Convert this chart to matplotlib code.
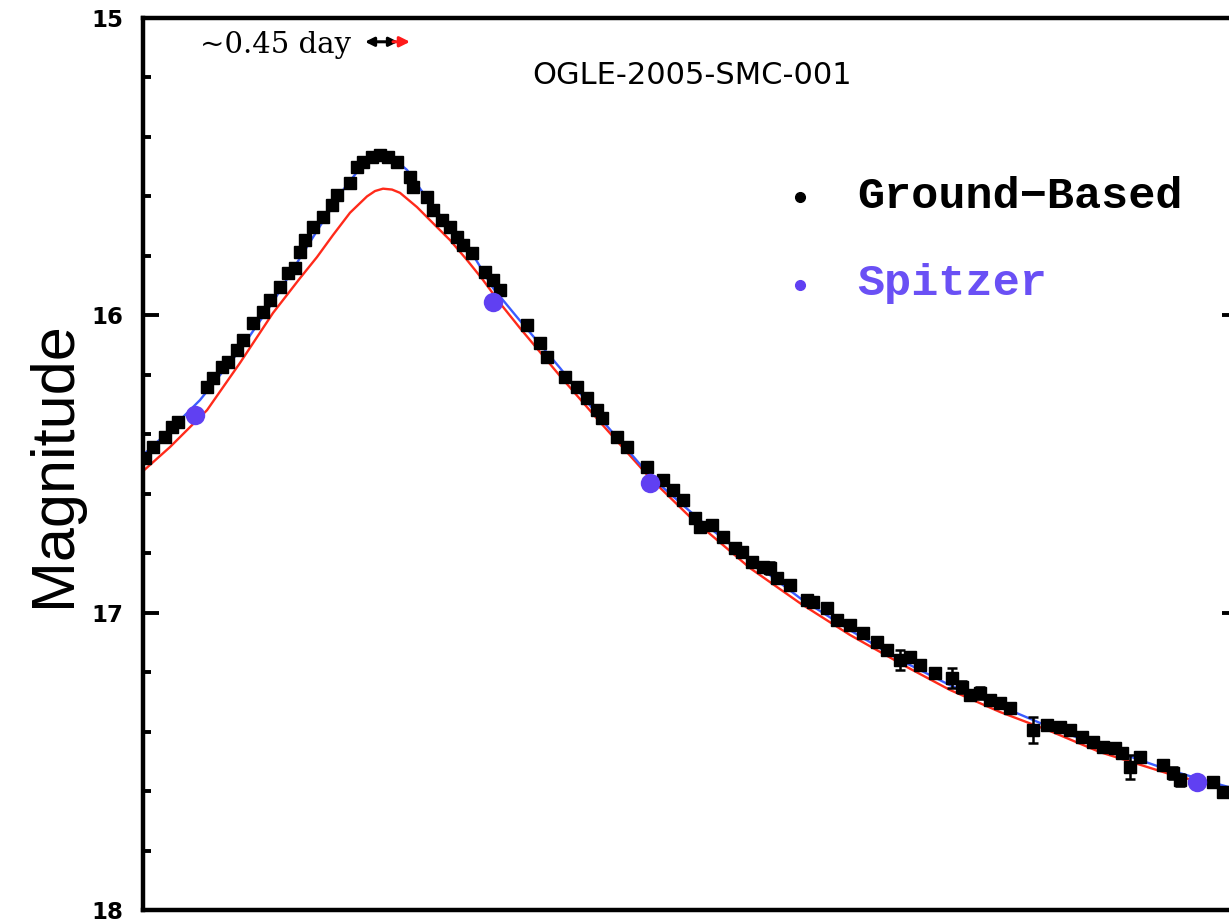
import numpy as np
import matplotlib
matplotlib.use("Agg")
import matplotlib.pyplot as plt

# ground-based photometry: time (days), magnitude, error
T_GB = [0.02, 0.10, 0.22, 0.29, 0.35, 0.64, 0.70, 0.79, 0.85, 0.94,
        1.00, 1.10, 1.20, 1.27, 1.37, 1.45, 1.52, 1.57, 1.62, 1.70,
        1.80, 1.89, 1.94, 2.07, 2.14, 2.20, 2.29, 2.37, 2.45, 2.54,
        2.67, 2.70, 2.84, 2.90, 2.99, 3.07, 3.14, 3.20, 3.29, 3.42,
        3.50, 3.57, 3.84, 3.97, 4.04, 4.22, 4.34, 4.44, 4.54, 4.59,
        4.74, 4.84, 5.04, 5.20, 5.30, 5.40, 5.52, 5.57, 5.69, 5.80,
        5.92, 5.99, 6.09, 6.20, 6.27, 6.34, 6.47, 6.64, 6.70, 6.84,
        6.94, 7.07, 7.20, 7.34, 7.44, 7.57, 7.67, 7.77, 7.92, 8.09,
        8.19, 8.27, 8.37, 8.47, 8.57, 8.67, 8.90, 9.04, 9.17, 9.27,
        9.39, 9.50, 9.60, 9.72, 9.79, 9.87, 9.97, 10.20, 10.30, 10.37,
        10.70, 10.80]
MAG_GB = [16.480, 16.443, 16.409, 16.376, 16.359, 16.241, 16.211, 16.174, 16.157, 16.117,
          16.083, 16.026, 15.989, 15.949, 15.905, 15.858, 15.841, 15.787, 15.747, 15.703,
          15.669, 15.629, 15.595, 15.555, 15.501, 15.484, 15.468, 15.461, 15.468, 15.484,
          15.535, 15.568, 15.602, 15.646, 15.679, 15.703, 15.737, 15.764, 15.790, 15.854,
          15.881, 15.915, 16.033, 16.093, 16.140, 16.208, 16.241, 16.278, 16.319, 16.345,
          16.409, 16.443, 16.510, 16.554, 16.588, 16.621, 16.682, 16.712, 16.705, 16.746,
          16.783, 16.796, 16.830, 16.847, 16.850, 16.884, 16.907, 16.958, 16.964, 16.985,
          17.025, 17.042, 17.069, 17.099, 17.126, 17.159, 17.149, 17.176, 17.203, 17.220,
          17.250, 17.277, 17.270, 17.294, 17.304, 17.321, 17.395, 17.378, 17.385, 17.395,
          17.418, 17.435, 17.452, 17.455, 17.472, 17.519, 17.486, 17.513, 17.540, 17.563,
          17.570, 17.603]
ERR_GB = [0.008] * 55 + [
          0.010, 0.010, 0.012, 0.012, 0.012, 0.012, 0.012, 0.012, 0.012, 0.020,
          0.012, 0.012, 0.012, 0.012, 0.012, 0.012, 0.012, 0.015, 0.012, 0.012,
          0.035, 0.012, 0.015, 0.015, 0.035, 0.020, 0.012, 0.020, 0.012, 0.012,
          0.012, 0.045, 0.015, 0.015, 0.015, 0.012, 0.012, 0.015, 0.012, 0.012,
          0.040, 0.015, 0.012, 0.020, 0.020, 0.015, 0.015]

# Spitzer photometry
T_SP = [0.52, 3.50, 5.07, 10.54]
MAG_SP = [16.335, 15.955, 16.564, 17.570]

# model light curves: fit to ground data (blue) and as seen from Spitzer (red)
T_FIT = [0.00, 0.27, 0.57, 0.97, 1.30, 1.57, 1.77, 2.00, 2.17, 2.35,
         2.42, 2.49, 2.64, 2.90, 3.27, 3.50, 3.74, 4.17, 4.57, 5.07,
         5.57, 6.07, 6.57, 7.07, 7.57, 8.07, 8.57, 9.07, 9.57, 10.17,
         10.53, 10.97]
MAG_FIT = [16.470, 16.386, 16.285, 16.117, 15.955, 15.807, 15.700, 15.579, 15.505, 15.464,
           15.461, 15.468, 15.511, 15.636, 15.780, 15.908, 16.006, 16.177, 16.345, 16.540,
           16.689, 16.823, 16.951, 17.059, 17.159, 17.244, 17.314, 17.385, 17.449, 17.519,
           17.556, 17.597]
T_SPZ = [0.00, 0.27, 0.64, 0.97, 1.30, 1.57, 1.74, 1.90, 2.07, 2.24,
         2.32, 2.40, 2.49, 2.57, 2.74, 2.90, 3.07, 3.24, 3.40, 3.57,
         3.77, 4.17, 4.57, 5.07, 5.47, 6.07, 6.57, 7.07, 7.64, 8.07,
         8.57, 9.07, 9.57, 10.24, 10.53, 10.97]
MAG_SPZ = [16.524, 16.443, 16.319, 16.160, 15.992, 15.875, 15.804, 15.730, 15.655, 15.600,
           15.582, 15.574, 15.577, 15.588, 15.636, 15.690, 15.747, 15.814, 15.881, 15.959,
           16.043, 16.204, 16.359, 16.547, 16.678, 16.850, 16.968, 17.075, 17.183, 17.260,
           17.334, 17.398, 17.469, 17.540, 17.566, 17.607]

W, H = 1229, 922
fig = plt.figure(figsize=(W / 100, H / 100), dpi=100)
ax = fig.add_axes([143 / W, 12 / H, 1095 / W, 892 / H])

ax.plot(T_SPZ, MAG_SPZ, color="#ff2a1a", lw=1.7, zorder=2)
ax.plot(T_FIT, MAG_FIT, color="#3a5cff", lw=1.7, zorder=3)
ax.errorbar(T_GB, MAG_GB, yerr=ERR_GB, fmt="s", color="black", ms=9,
            elinewidth=1.8, capsize=3.5, capthick=1.8, zorder=4)
ax.plot(T_SP, MAG_SP, "o", color="#6040f2", ms=14, mec="none", zorder=5)

ax.set_xlim(0, 10.95)
ax.set_ylim(18, 15)
ax.set_yticks([15, 16, 17, 18])
ax.set_yticks(np.arange(15, 18.01, 0.2), minor=True)
ax.set_xticks([])
ax.tick_params(axis="y", which="major", direction="in", length=11.5, width=2.8,
               right=True, pad=14, labelsize=16.5)
ax.tick_params(axis="y", which="minor", direction="in", length=6, width=2.8, right=True)
for lab in ax.get_yticklabels():
    lab.set_fontweight("bold")
for sp in ax.spines.values():
    sp.set_linewidth(3.2)

fig.text(55 / W, 1 - 464 / H, "Magnitude", rotation=90, ha="center", va="center",
         family="Liberation Sans", fontsize=44)

# event name and time-offset marker
fig.text(692 / W, 1 - 75 / H, "OGLE-2005-SMC-001", ha="center", va="center",
         family="DejaVu Sans", fontsize=22)
fig.text(200 / W, 1 - 45 / H, "~0.45 day", ha="left", va="center",
         family="DejaVu Serif", fontsize=21)
ax.annotate("", xy=(2.22, 15.08), xytext=(2.55, 15.08),
            arrowprops=dict(arrowstyle="<|-|>", color="black", lw=2.2, mutation_scale=13,
                            shrinkA=0, shrinkB=0))
ax.annotate("", xy=(2.67, 15.08), xytext=(2.50, 15.08),
            arrowprops=dict(arrowstyle="-|>", color="#ff1a1a", lw=2.2, mutation_scale=15,
                            shrinkA=0, shrinkB=0))

# legend drawn by hand
fig.text(857 / W, 1 - 197 / H, "Ground\u2212Based", ha="left", va="center",
         family="Liberation Mono", weight="bold", fontsize=32.5, color="black")
fig.text(857 / W, 1 - 283 / H, "Spitzer", ha="left", va="center",
         family="Liberation Mono", weight="bold", fontsize=32.5, color="#6a50f5")
fig.lines.append(plt.Line2D([800 / W], [1 - 197 / H], marker="o", ms=7, color="black",
                            transform=fig.transFigure))
fig.lines.append(plt.Line2D([800 / W], [1 - 285 / H], marker="o", ms=7, color="#6040f2",
                            transform=fig.transFigure))

fig.savefig("out.png", dpi=100)
